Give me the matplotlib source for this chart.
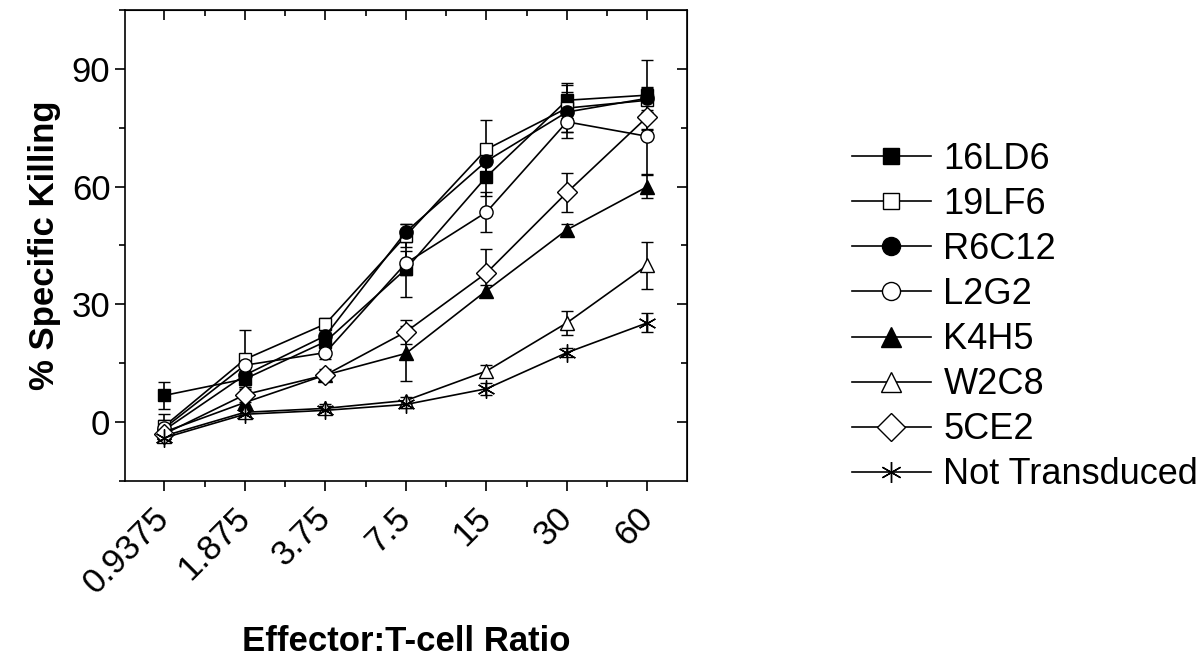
import numpy as np
import matplotlib.pyplot as plt
from matplotlib.lines import Line2D
from matplotlib.ticker import FixedLocator, NullFormatter

plt.rcParams['font.family'] = ['Liberation Sans', 'DejaVu Sans']

ratios = [0.9375, 1.875, 3.75, 7.5, 15, 30, 60]
ratio_labels = ['0.9375', '1.875', '3.75', '7.5', '15', '30', '60']

names = ['16LD6', '19LF6', 'R6C12', 'L2G2', 'K4H5', 'W2C8', '5CE2', 'Not Transduced']

v_16ld6 = [6.8, 11.0, 20.5, 39.0, 62.5, 82.0, 83.3]
e_16ld6 = [3.5, 2.0, 1.5, 7.0, 5.0, 4.5, 9.0]
v_19lf6 = [-1.0, 16.0, 25.0, 47.5, 69.5, 80.0, 82.0]
e_19lf6 = [3.0, 7.5, 1.5, 3.0, 7.5, 6.0, 3.0]
v_r6c12 = [-2.0, 12.0, 22.0, 48.5, 66.5, 79.0, 82.5]
e_r6c12 = [2.0, 2.0, 1.5, 2.0, 3.0, 5.0, 3.0]
v_l2g2 = [-1.5, 14.5, 17.7, 40.5, 53.5, 76.5, 72.8]
e_l2g2 = [2.0, 2.0, 1.5, 3.0, 5.0, 4.0, 9.5]
v_k4h5 = [-2.5, 5.0, 12.0, 17.5, 33.5, 49.0, 60.0]
e_k4h5 = [1.5, 1.5, 1.0, 7.0, 1.5, 1.5, 3.0]
v_w2c8 = [-3.5, 2.5, 3.5, 5.5, 13.0, 25.3, 40.0]
e_w2c8 = [1.5, 1.0, 1.0, 1.0, 1.5, 3.0, 6.0]
v_5ce2 = [-3.0, 7.0, 12.0, 23.0, 38.0, 58.5, 77.8]
e_5ce2 = [1.5, 2.0, 1.5, 3.0, 6.0, 5.0, 3.0]
v_nt = [-4.0, 2.0, 3.0, 4.5, 8.5, 17.7, 25.3]
e_nt = [1.0, 1.0, 1.0, 1.0, 1.5, 1.2, 2.4]

values = [v_16ld6, v_19lf6, v_r6c12, v_l2g2, v_k4h5, v_w2c8, v_5ce2, v_nt]
errors = [e_16ld6, e_19lf6, e_r6c12, e_l2g2, e_k4h5, e_w2c8, e_5ce2, e_nt]

# marker, fill colour, size in plot, size in legend
styles = [('s', 'black', 8.5, 12), ('s', 'white', 8.5, 12), ('o', 'black', 9.5, 13),
          ('o', 'white', 9.5, 13), ('^', 'black', 10, 15), ('^', 'white', 10, 15),
          ('D', 'white', 10.5, 14), ((6, 2, 0), 'black', 13, 15)]

fig = plt.figure(figsize=(12.03, 6.56), dpi=100)
ax = fig.add_axes([0.1039, 0.2668, 0.4671, 0.718])

for name, v, e, (m, fc, ms, _) in zip(names, values, errors, styles):
    ax.errorbar(ratios, v, yerr=e, color='black', lw=1.2, marker=m, ms=ms,
                mfc=fc, mec='black', mew=1.0, capsize=4, elinewidth=1.2,
                capthick=1.2, label=name)

ax.set_xscale('log', base=2)
ax.set_xlim(0.9375 / 2 ** 0.49, 60 * 2 ** 0.49)
ax.set_ylim(-15, 105)
ax.set_xticks(ratios)
ax.set_xticklabels(ratio_labels, rotation=45, ha='right', va='center',
                   rotation_mode='anchor', fontsize=25)
mids = [np.sqrt(a * b) for a, b in zip(ratios[:-1], ratios[1:])]
ax.xaxis.set_minor_locator(FixedLocator(mids))
ax.xaxis.set_minor_formatter(NullFormatter())
ax.set_yticks([0, 30, 60, 90])
ax.yaxis.set_minor_locator(FixedLocator([-15, 15, 45, 75, 105]))
ax.tick_params(axis='y', labelsize=25)

ax.tick_params(which='both', direction='out', left=True, bottom=True, width=1.2)
ax.tick_params(which='major', length=7)
ax.tick_params(which='minor', length=4)
ax.tick_params(axis='x', which='major', pad=16)

# mirrored ticks on top and right point inward
axt = ax.secondary_xaxis('top')
axt.set_xticks(ratios)
axt.xaxis.set_minor_locator(FixedLocator(mids))
axt.tick_params(which='both', direction='in', labeltop=False, width=1.2)
axt.tick_params(which='major', length=7)
axt.tick_params(which='minor', length=4)
axr = ax.secondary_yaxis('right')
axr.set_yticks([0, 30, 60, 90])
axr.yaxis.set_minor_locator(FixedLocator([15, 45, 75]))
axr.tick_params(which='both', direction='in', labelright=False, width=1.2)
axr.tick_params(which='major', length=7)
axr.tick_params(which='minor', length=4)

for s in ax.spines.values():
    s.set_linewidth(1.2)

ax.set_ylabel('% Specific Killing', fontsize=25, fontweight='bold', labelpad=8)
ax.set_xlabel('Effector:T-cell Ratio', fontsize=25, fontweight='bold', labelpad=18)

handles = [Line2D([], [], color='black', lw=1.2, marker=m, ms=lms, mfc=fc,
                  mec='black', mew=1.0) for (m, fc, _, lms) in styles]
fig.legend(handles, names, loc='upper left', bbox_to_anchor=(0.696, 0.806),
           frameon=False, fontsize=26, handlelength=2.2, handletextpad=0.34,
           labelspacing=0.28, borderaxespad=0)

fig.savefig('out.png', dpi=100)
